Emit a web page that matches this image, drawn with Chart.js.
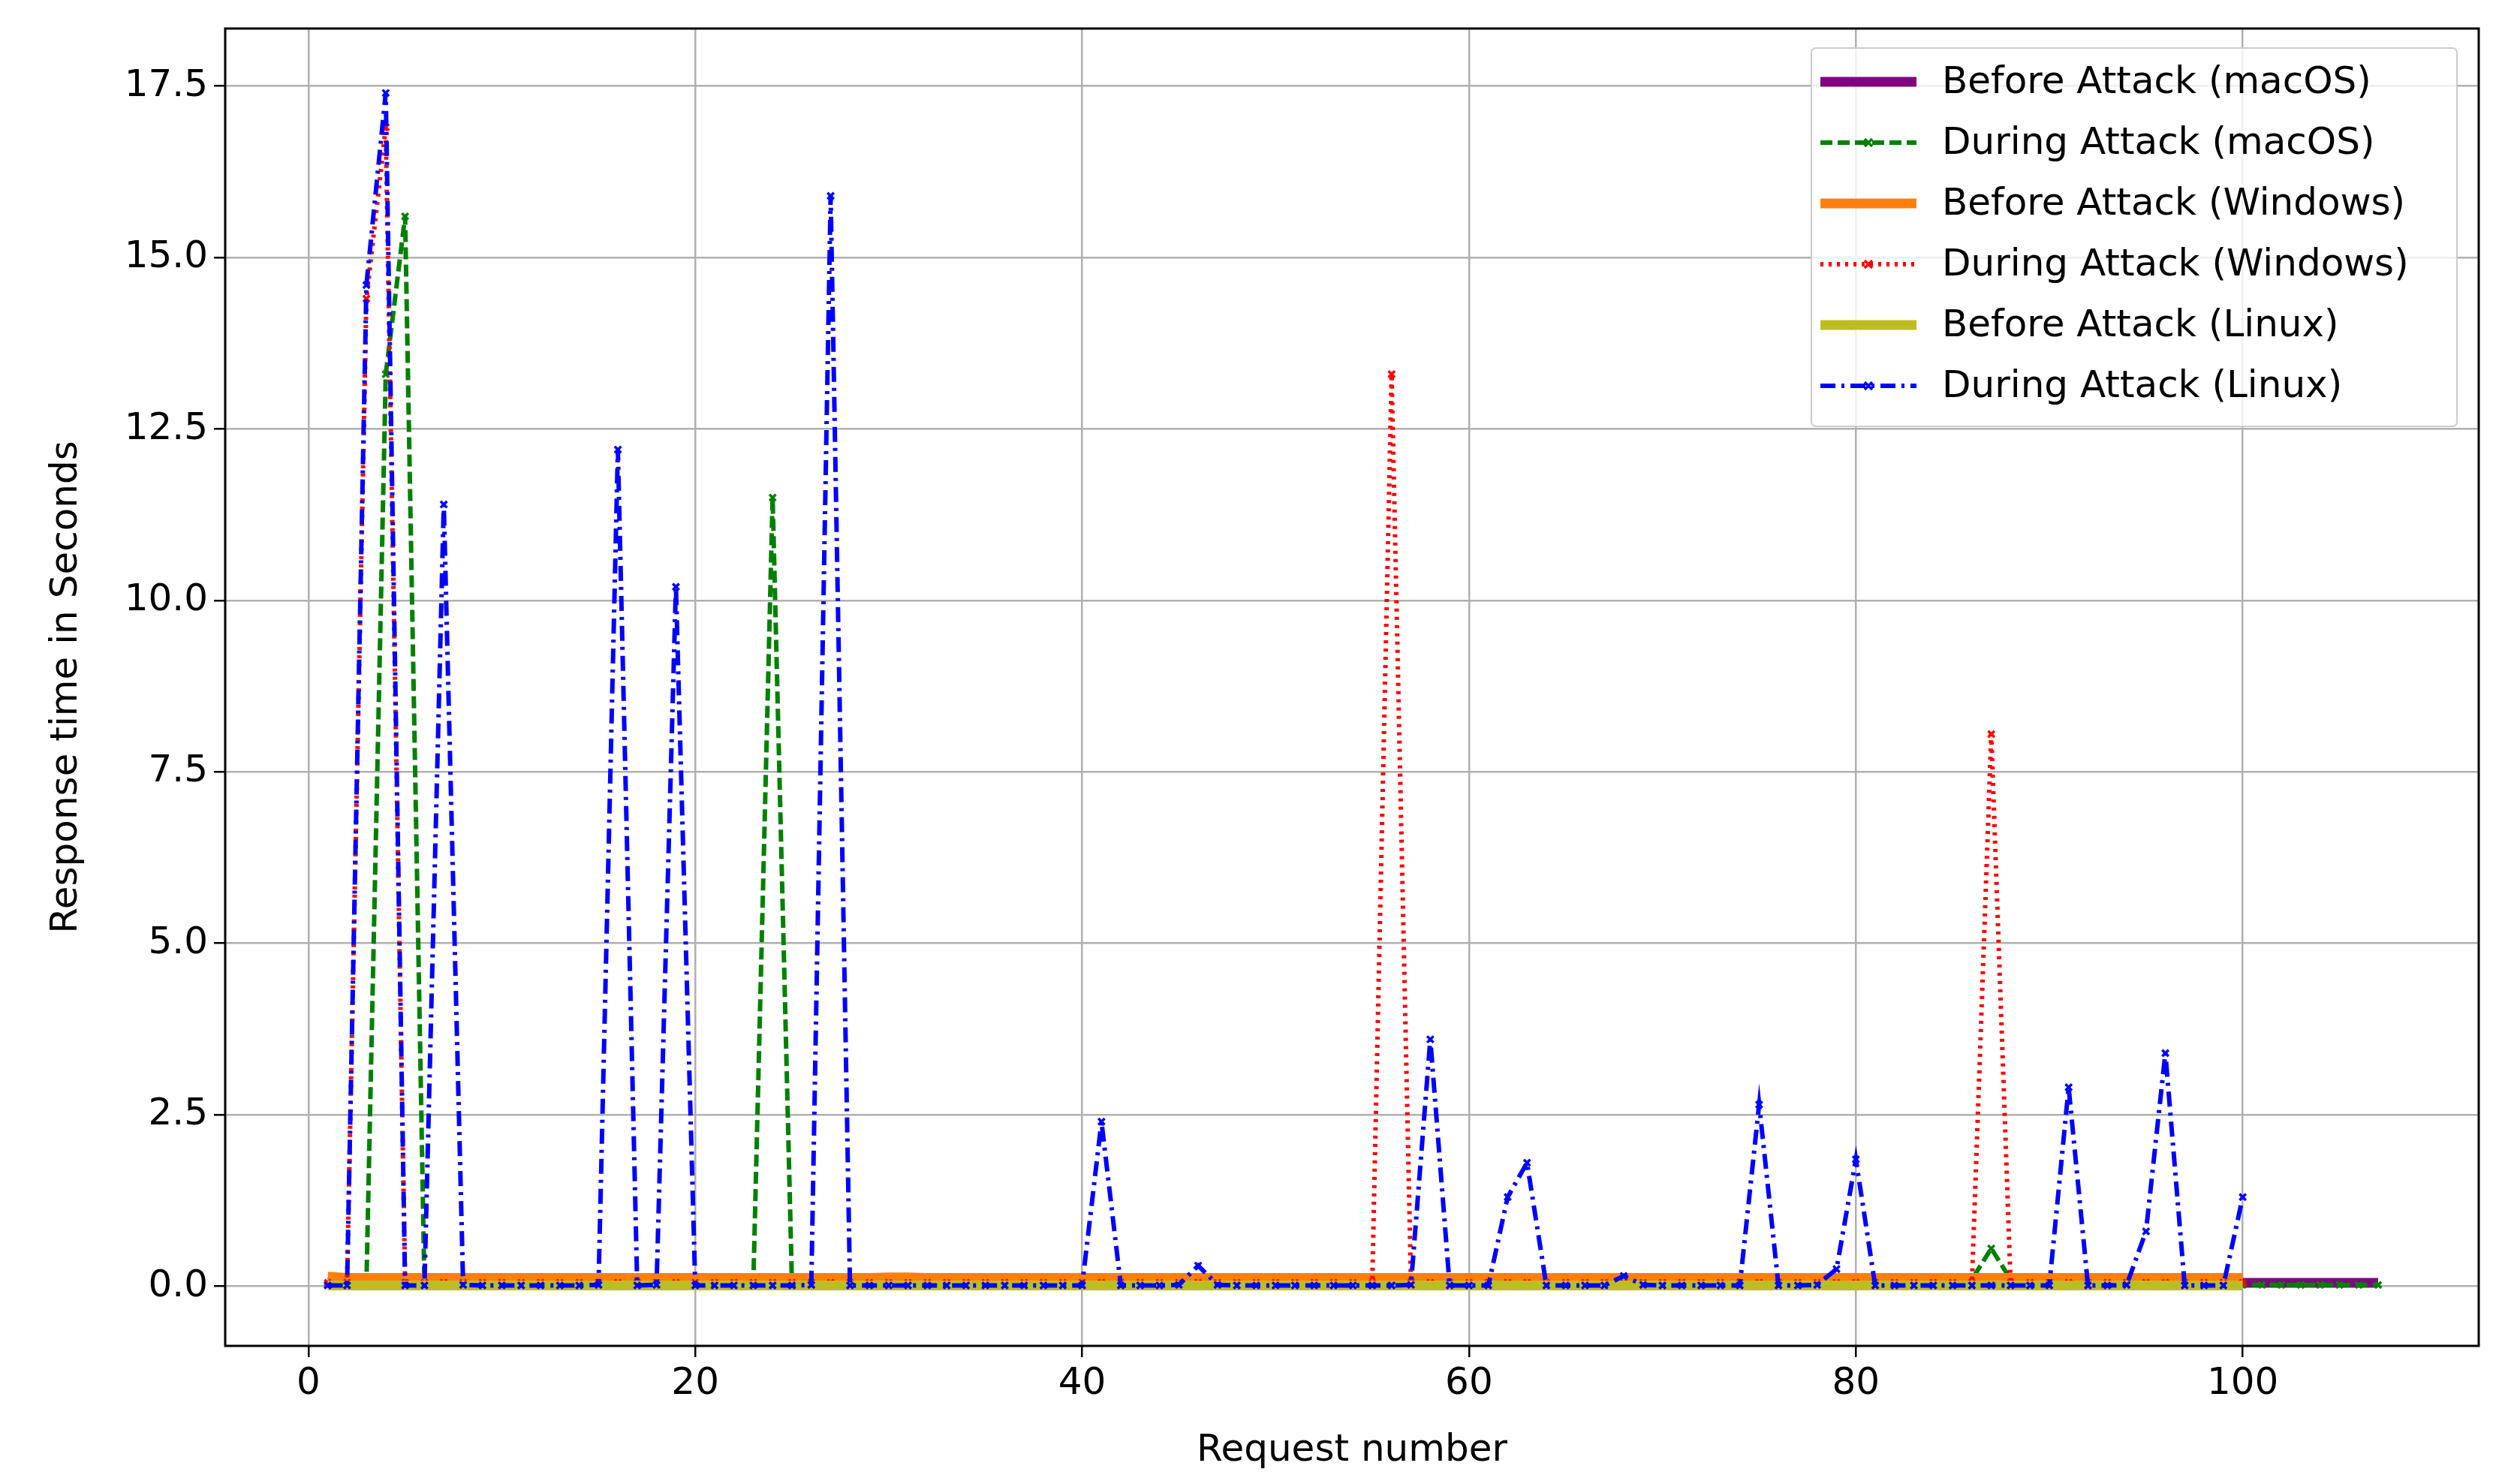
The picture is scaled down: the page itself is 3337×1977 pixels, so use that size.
<!DOCTYPE html>
<html>
<head>
<meta charset="utf-8">
<script src="https://cdn.jsdelivr.net/npm/chart.js@4.4.0/dist/chart.umd.min.js"></script>
<style>
  html, body { margin: 0; padding: 0; background: #fff; }
  #wrap { width: 3337px; height: 1977px; }
</style>
</head>
<body>
<div id="wrap"><canvas id="responseChartArea" width="3337" height="1977"></canvas></div>
<script>
'use strict'
var xTicks = [0, 20, 40, 60, 80, 100];

var macBefore = [
  0.05,0.05,0.05,0.05,0.05,0.05,0.05,0.05,0.05,0.05, 0.05,0.05,0.05,0.05,0.05,0.05,0.05,0.05,0.05,0.05,
  0.05,0.05,0.05,0.05,0.05,0.05,0.05,0.05,0.05,0.05, 0.05,0.05,0.05,0.05,0.05,0.05,0.05,0.05,0.05,0.05,
  0.05,0.05,0.05,0.05,0.05,0.05,0.05,0.05,0.05,0.05, 0.05,0.05,0.05,0.05,0.05,0.05,0.05,0.05,0.05,0.05,
  0.05,0.05,0.05,0.05,0.05,0.05,0.05,0.05,0.05,0.05, 0.05,0.05,0.05,0.05,0.05,0.05,0.05,0.05,0.05,0.05,
  0.05,0.05,0.05,0.05,0.05,0.05,0.05,0.05,0.05,0.05, 0.05,0.05,0.05,0.05,0.05,0.05,0.05,0.05,0.05,0.05,
  0.05,0.05,0.05,0.05,0.05,0.05,0.05
];
var macDuring = [
  0.02,0.02,0.02,13.3,15.6,0.02,0.02,0.02,0.02,0.02, 0.02,0.02,0.02,0.02,0.02,0.02,0.02,0.02,0.02,0.02,
  0.02,0.02,0.02,11.5,0.02,0.02,0.02,0.02,0.02,0.02, 0.02,0.02,0.02,0.02,0.02,0.02,0.02,0.02,0.02,0.02,
  0.02,0.02,0.02,0.02,0.02,0.02,0.02,0.02,0.02,0.02, 0.02,0.02,0.02,0.02,0.02,0.02,0.02,0.02,0.02,0.02,
  0.02,0.02,0.02,0.02,0.02,0.02,0.02,0.02,0.02,0.02, 0.02,0.02,0.02,0.02,0.02,0.02,0.02,0.02,0.02,0.02,
  0.02,0.02,0.02,0.02,0.02,0.1,0.55,0.1,0.02,0.02, 0.02,0.02,0.02,0.02,0.02,0.02,0.02,0.02,0.02,0.02,
  0.02,0.02,0.02,0.02,0.02,0.02,0.02
];
var winBefore = [
  0.14,0.12,0.12,0.12,0.12,0.12,0.12,0.12,0.12,0.12, 0.12,0.12,0.12,0.12,0.12,0.12,0.12,0.12,0.12,0.12,
  0.12,0.12,0.12,0.12,0.12,0.12,0.12,0.12,0.12,0.13, 0.13,0.12,0.12,0.12,0.12,0.12,0.12,0.12,0.12,0.12,
  0.12,0.12,0.12,0.12,0.12,0.12,0.12,0.12,0.12,0.12, 0.12,0.12,0.12,0.12,0.12,0.12,0.12,0.12,0.12,0.12,
  0.12,0.12,0.12,0.12,0.12,0.12,0.12,0.12,0.12,0.12, 0.12,0.12,0.12,0.12,0.12,0.12,0.12,0.12,0.12,0.12,
  0.12,0.12,0.12,0.12,0.12,0.12,0.12,0.12,0.12,0.12, 0.12,0.12,0.12,0.12,0.12,0.12,0.12,0.12,0.12,0.12
];
var winDuring = [
  0.05,0.05,14.4,16.9,0.05,0.05,0.05,0.05,0.05,0.05, 0.05,0.05,0.05,0.05,0.05,0.05,0.05,0.05,0.05,0.05,
  0.05,0.05,0.05,0.05,0.05,0.05,0.05,0.05,0.05,0.05, 0.05,0.05,0.05,0.05,0.05,0.05,0.05,0.05,0.05,0.05,
  0.05,0.05,0.05,0.05,0.05,0.05,0.05,0.05,0.05,0.05, 0.05,0.05,0.05,0.05,0.05,13.3,0.05,0.05,0.05,0.05,
  0.05,0.05,0.05,0.05,0.05,0.05,0.05,0.05,0.05,0.05, 0.05,0.05,0.05,0.05,0.05,0.05,0.05,0.05,0.05,0.05,
  0.05,0.05,0.05,0.05,0.05,0.05,8.05,0.05,0.05,0.05, 0.05,0.05,0.05,0.05,0.05,0.05,0.05,0.05,0.05,0.05
];
var linBefore = [
  0.01,0.01,0.01,0.01,0.01,0.01,0.01,0.01,0.01,0.01, 0.01,0.01,0.01,0.01,0.01,0.01,0.01,0.01,0.01,0.01,
  0.01,0.01,0.01,0.01,0.01,0.01,0.01,0.01,0.01,0.01, 0.01,0.01,0.01,0.01,0.01,0.01,0.01,0.01,0.01,0.01,
  0.01,0.01,0.01,0.01,0.01,0.01,0.01,0.01,0.01,0.01, 0.01,0.01,0.01,0.01,0.01,0.01,0.01,0.01,0.01,0.01,
  0.01,0.01,0.01,0.01,0.01,0.01,0.01,0.01,0.01,0.01, 0.01,0.01,0.01,0.01,0.01,0.01,0.01,0.01,0.01,0.01,
  0.01,0.01,0.01,0.01,0.01,0.01,0.01,0.01,0.01,0.01, 0.01,0.01,0.01,0.01,0.01,0.01,0.01,0.01,0.01,0.01
];
var linDuring = [
  0.01,0.01,14.6,17.4,0.01,0.01,11.4,0.02,0.01,0.01, 0.01,0.01,0.01,0.01,0.02,12.2,0.01,0.02,10.2,0.01,
  0.01,0.01,0.01,0.01,0.01,0.02,15.9,0.01,0.01,0.01, 0.01,0.01,0.01,0.01,0.01,0.01,0.01,0.01,0.01,0.01,
  2.4,0.01,0.01,0.01,0.02,0.3,0.02,0.01,0.01,0.01, 0.01,0.01,0.01,0.01,0.01,0.01,0.02,3.6,0.01,0.01,
  0.01,1.3,1.8,0.01,0.01,0.01,0.01,0.15,0.02,0.01, 0.01,0.01,0.01,0.01,2.65,0.01,0.01,0.02,0.25,1.85,
  0.01,0.01,0.01,0.01,0.01,0.01,0.01,0.01,0.01,0.01, 2.9,0.01,0.01,0.02,0.8,3.4,0.01,0.01,0.01,1.3
];

function points(arr) {
  return arr.map(function (v, i) { return { x: i + 1, y: v }; });
}

function before(label, arr, color, order) {
  return { label: label, data: points(arr), borderColor: color, backgroundColor: color,
    borderWidth: 13, pointRadius: 0, tension: 0, borderCapStyle: 'butt', order: order };
}
function during(label, arr, color, dash, order) {
  return { label: label, data: points(arr), borderColor: color, backgroundColor: color,
    borderWidth: 6, borderDash: dash, pointStyle: 'crossRot', pointRadius: 6,
    pointBorderWidth: 3.5, pointBorderColor: color, tension: 0, order: order };
}

// higher order is drawn first, so later datasets land on top like matplotlib
var datasets = [
  before('Before Attack (macOS)', macBefore, '#800080', 6),
  during('During Attack (macOS)', macDuring, '#008000', [16, 7], 5),
  before('Before Attack (Windows)', winBefore, '#ff7f0e', 4),
  during('During Attack (Windows)', winDuring, '#ff0000', [4, 7], 3),
  before('Before Attack (Linux)', linBefore, '#bcbd22', 2),
  during('During Attack (Linux)', linDuring, '#0000ff', [20, 8, 4, 8], 1)
];

var legendInside = {
  id: 'legendInside',
  afterDraw: function (chart) {
    var ctx = chart.ctx;
    var x0 = 2413, y0 = 64, w = 860, h = 504, row = 81;
    ctx.save();
    ctx.fillStyle = 'rgba(255,255,255,0.8)';
    ctx.strokeStyle = '#cccccc';
    ctx.lineWidth = 2;
    ctx.beginPath();
    ctx.roundRect(x0, y0, w, h, 6);
    ctx.fill();
    ctx.stroke();
    ctx.font = '50px "DejaVu Sans"';
    ctx.textBaseline = 'middle';
    chart.data.datasets.forEach(function (ds, i) {
      var y = y0 + 45 + i * row;
      ctx.strokeStyle = ds.borderColor;
      ctx.lineWidth = ds.borderWidth;
      ctx.setLineDash(ds.borderDash || []);
      ctx.beginPath();
      ctx.moveTo(x0 + 12, y);
      ctx.lineTo(x0 + 140, y);
      ctx.stroke();
      ctx.setLineDash([]);
      if (ds.pointRadius) {
        ctx.lineWidth = 3.5;
        ctx.beginPath();
        ctx.moveTo(x0 + 76 - 5, y - 5); ctx.lineTo(x0 + 76 + 5, y + 5);
        ctx.moveTo(x0 + 76 + 5, y - 5); ctx.lineTo(x0 + 76 - 5, y + 5);
        ctx.stroke();
      }
      ctx.fillStyle = '#000';
      ctx.fillText(ds.label, x0 + 174, y + 2);
    });
    ctx.restore();
  }
};

var frame = {
  id: 'frame',
  afterDraw: function (chart) {
    var a = chart.chartArea, ctx = chart.ctx;
    ctx.save();
    ctx.strokeStyle = '#000';
    ctx.lineWidth = 3;
    ctx.strokeRect(a.left, a.top, a.right - a.left, a.bottom - a.top);
    ctx.restore();
  }
};

Chart.defaults.font.family = '"DejaVu Sans"';
Chart.defaults.color = '#000';

var responseChartArea = document.getElementById('responseChartArea');
var responseChart = new Chart(responseChartArea, {
  type: 'line',
  data: { datasets: datasets },
  options: {
    responsive: false,
    animation: false,
    devicePixelRatio: 1,
    layout: { padding: { top: 36, right: 35, left: 55, bottom: 14 } },
    plugins: { legend: { display: false }, tooltip: { enabled: false } },
    scales: {
      x: {
        type: 'linear', min: -4.3, max: 112.2,
        afterBuildTicks: function (axis) { axis.ticks = xTicks.map(function (v) { return { value: v }; }); },
        grid: { color: '#b0b0b0', lineWidth: 2.5, drawTicks: true, tickLength: 15, tickColor: '#000' },
        border: { display: false },
        ticks: { font: { size: 50 }, padding: 6, maxRotation: 0 },
        title: { display: true, text: 'Request number', font: { size: 50 }, padding: { top: 4, bottom: 0 } },
        afterFit: function (axis) { axis.height = 170; }
      },
      y: {
        min: -0.87, max: 18.34,
        afterBuildTicks: function (axis) {
          var t = [];
          for (var v = 0; v <= 17.5; v += 2.5) t.push({ value: v });
          axis.ticks = t;
        },
        grid: { color: '#b0b0b0', lineWidth: 2.5, drawTicks: true, tickLength: 15, tickColor: '#000' },
        border: { display: false },
        ticks: { font: { size: 50 }, padding: 8, callback: function (v) { return v.toFixed(1); } },
        title: { display: true, text: 'Response time in Seconds', font: { size: 50 }, padding: 4 },
        afterFit: function (axis) { axis.width = 245; }
      }
    }
  },
  plugins: [frame, legendInside]
});
</script>
</body>
</html>
